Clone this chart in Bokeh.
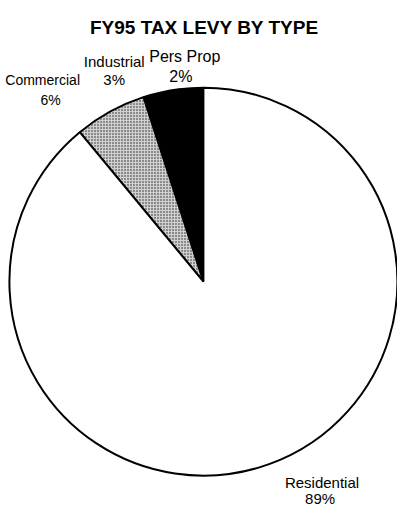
import numpy as np
from bokeh.plotting import figure
from bokeh.models import Range1d, ColumnDataSource
from bokeh.core.properties import value
from bokeh.embed import file_html
from bokeh.resources import INLINE

# ---- data ----
title_text = "FY95 TAX LEVY BY TYPE"
categories = ["Pers Prop", "Industrial", "Commercial", "Residential"]
shares = [2, 3, 6, 89]
pct_labels = ["2%", "3%", "6%", "89%"]

# ---- styles / layout ----
fills = ["black", "black", "#d0d0d0", "white"]
hatches = ["blank", "blank", ".", "blank"]
# label anchors in reference px: name center x, name baseline y, pct center x, pct baseline y, font px
label_layout = {
    "Pers Prop":   (188, 58, 184, 78, 16),
    "Industrial":  (116, 63, 116, 82, 15),
    "Commercial":  (43, 82, 51, 103, 14),
    "Residential": (328, 497, 326, 514, 15),
}

W, H = 397, 507
SX, SY = W / 405.0, H / 523.0
SR = (SX + SY) / 2


def fx(x):
    return x * SX


def fy(y):
    return H - y * SY


p = figure(width=W, height=H, x_range=Range1d(0, W), y_range=Range1d(0, H),
           output_backend="svg", toolbar_location=None, min_border=0,
           x_axis_location=None, y_axis_location=None, outline_line_color=None)
p.grid.visible = False
p.background_fill_color = "white"
p.border_fill_color = "white"

# wedges, starting at 12 o'clock going counter-clockwise
total = float(sum(shares))
fr = np.array(shares) / total
ends = np.pi / 2 + np.cumsum(fr) * 2 * np.pi
starts = np.concatenate([[np.pi / 2], ends[:-1]])
src = ColumnDataSource(dict(cat=categories, start=starts, end=ends, fill=fills, hatch=hatches))
cx, cy, r = fx(207), fy(290), 199 * SR
p.wedge(x=cx, y=cy, radius=r, start_angle="start", end_angle="end", source=src,
        fill_color="fill", hatch_pattern="hatch", hatch_color="#222222", hatch_scale=3,
        hatch_weight=1, line_color="black", line_width=2)

# labels
xs, ys, ts, fs = [], [], [], []
for c, pl in zip(categories, pct_labels):
    nx, ny, qx, qy, size = label_layout[c]
    xs += [fx(nx), fx(qx)]
    ys += [fy(ny), fy(qy)]
    ts += [c, pl]
    fs += [f"{size}px", f"{size}px"]
lsrc = ColumnDataSource(dict(x=xs, y=ys, t=ts, fs=fs))
p.text(x="x", y="y", text="t", source=lsrc, text_align="center", text_baseline="alphabetic",
       text_font=value("Liberation Sans"), text_font_size="fs", text_color="black")

# title
p.text(x=[fx(208)], y=[fy(28)], text=[title_text], text_align="center", text_baseline="alphabetic",
       text_font=value("Liberation Sans"), text_font_style="bold", text_font_size="19px",
       text_color="black")

open("out.html", "w").write(file_html(p, INLINE))
